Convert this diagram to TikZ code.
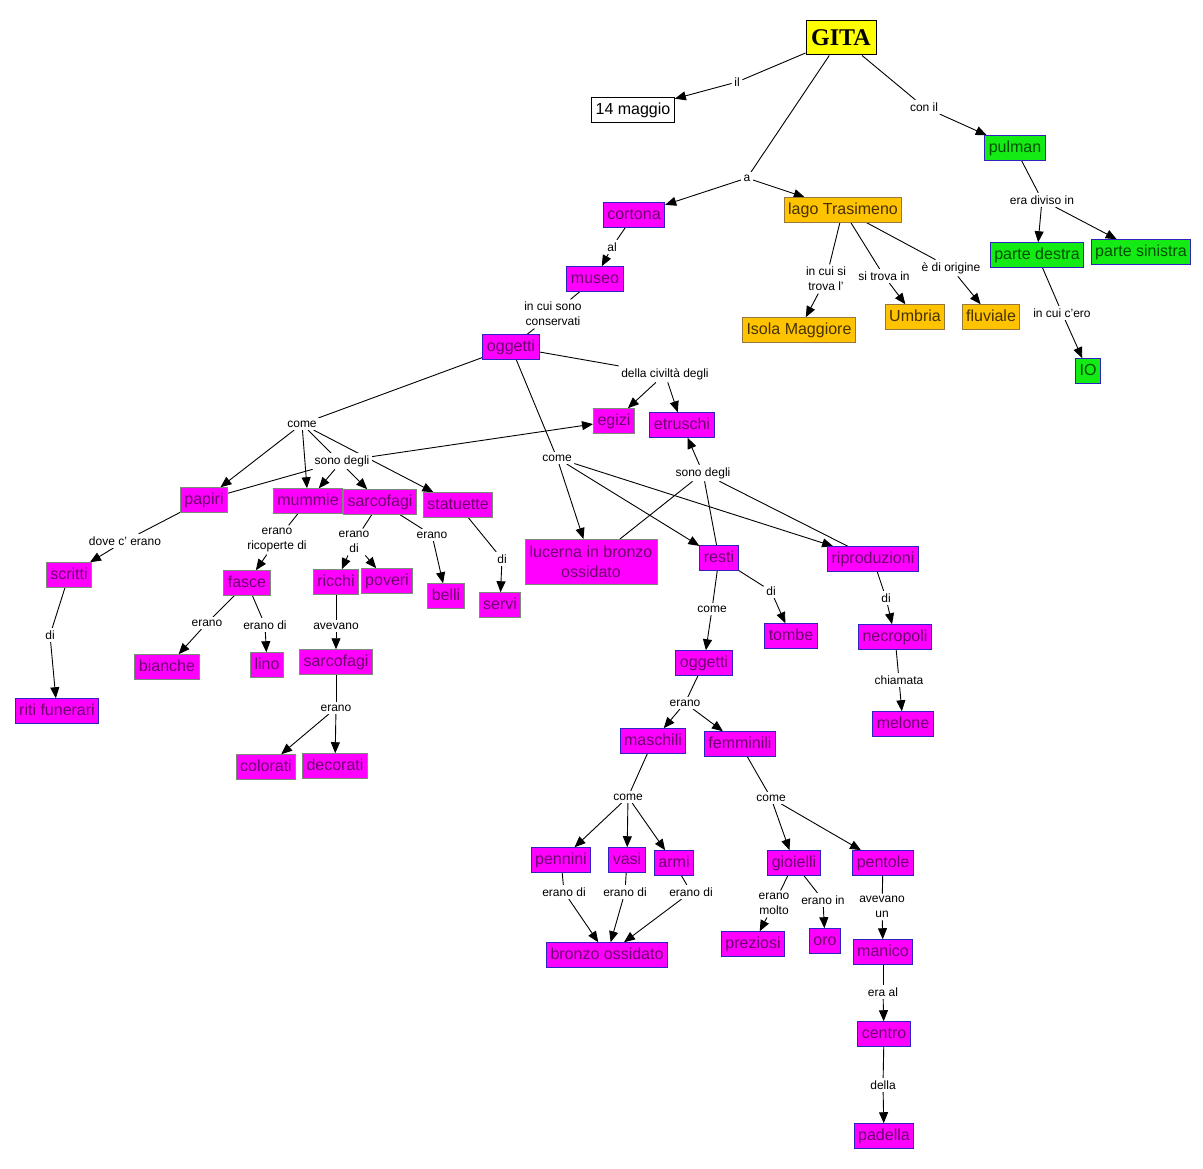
\documentclass[tikz,border=0pt]{standalone}
\usepackage{fontspec}
\setmainfont{Liberation Sans}
\newfontfamily\gitafont{Liberation Serif}
\usepackage{xcolor}
\usepackage{tikz}
\usetikzlibrary{arrows.meta,backgrounds}
\definecolor{mapMagenta}{RGB}{255,0,255}
\definecolor{mapBlue}{RGB}{45,35,190}
\definecolor{mapGrey}{RGB}{120,140,120}
\definecolor{mapPurple}{RGB}{110,0,110}
\definecolor{mapGreen}{RGB}{20,235,20}
\definecolor{mapGreenText}{RGB}{0,80,0}
\definecolor{mapOrange}{RGB}{255,195,0}
\definecolor{mapOrangeEdge}{RGB}{150,120,60}
\definecolor{mapOrangeText}{RGB}{70,50,0}
\definecolor{mapYellow}{RGB}{255,255,0}

\begin{document}
\begin{tikzpicture}[x=1pt,y=-1pt,
    every node/.style={font=\fontsize{16}{20}\selectfont,align=center},
    cbase/.style={rectangle,draw,line width=1pt,inner xsep=4pt,inner ysep=4.5pt},
    concept/.style={cbase,text height=12pt,text depth=3.5pt},
    cmag/.style={concept,fill=mapMagenta,draw=mapBlue,text=mapPurple},
    cmagg/.style={concept,fill=mapMagenta,draw=mapGrey,text=mapPurple},
    cgreen/.style={concept,fill=mapGreen,draw=mapBlue,text=mapGreenText},
    corange/.style={concept,fill=mapOrange,draw=mapOrangeEdge,text=mapOrangeText},
    cdate/.style={concept,fill=white,draw=black},
    cgita/.style={rectangle,draw,line width=1pt,fill=mapYellow,minimum width=70pt,
                  minimum height=34pt,inner sep=0pt,font=\gitafont\bfseries\fontsize{24}{26}\selectfont},
    link/.style={font=\fontsize{12}{15}\selectfont,fill=white,inner sep=2.5pt},
    plain/.style={draw=black,line width=0.9pt},
    arrow/.style={plain,-{Triangle[length=11pt,width=9pt]}},
]
    \useasboundingbox (0,0) rectangle (1203,1169);

    % concepts
    \node[cgita]   (gita)    at (841,38)  {GITA};
    \node[cdate]   (maggio)  at (633,110) {14 maggio};
    \node[cgreen]  (pulman)  at (1015,148) {pulman};
    \node[cgreen]  (destra)  at (1037,255) {parte destra};
    \node[cgreen]  (sinistra) at (1141,252) {parte sinistra};
    \node[cgreen]  (io)      at (1088,371) {IO};
    \node[cmag]    (cortona) at (634,215) {cortona};
    \node[corange] (lago)    at (843,210) {lago Trasimeno};
    \node[corange] (isola)   at (799,330) {Isola Maggiore};
    \node[corange] (umbria)  at (915,317) {Umbria};
    \node[corange] (fluviale) at (991,317) {fluviale};
    \node[cmag]    (museo)   at (595,279) {museo};
    \node[cmag]    (oggetti) at (511,347) {oggetti};
    \node[cmagg]   (egizi)   at (614,421) {egizi};
    \node[cmag]    (etruschi) at (682,425) {etruschi};
    \node[cmagg]   (papiri)  at (204,500) {papiri};
    \node[cmagg]   (mummie)  at (308,501) {mummie};
    \node[cmagg]   (sarcofagi) at (380,502) {sarcofagi};
    \node[cmagg]   (statuette) at (458,505) {statuette};
    \node[cbase,fill=mapMagenta,draw=mapGrey,text=mapPurple,minimum width=132pt,
          minimum height=45pt] (lucerna) at (591,562) {lucerna in bronzo\\ossidato};
    \node[cmag]    (resti)   at (719,558) {resti};
    \node[cmag]    (riproduzioni) at (873,559) {riproduzioni};
    \node[cmagg]   (scritti) at (69,575)  {scritti};
    \node[cmag]    (riti)    at (57,711)  {riti funerari};
    \node[cmagg]   (fasce)   at (247,583) {fasce};
    \node[cmagg]   (bianche) at (167,667) {bianche};
    \node[cmagg]   (lino)    at (267,665) {lino};
    \node[cmagg]   (ricchi)  at (336,582) {ricchi};
    \node[cmagg]   (poveri)  at (387,581) {poveri};
    \node[cmagg]   (belli)   at (446,596) {belli};
    \node[cmagg]   (servi)   at (500,605) {servi};
    \node[cmagg]   (sarcofagib) at (336,662) {sarcofagi};
    \node[cmagg]   (colorati) at (266,767) {colorati};
    \node[cmagg]   (decorati) at (335,766) {decorati};
    \node[cmag]    (tombe)   at (791,636) {tombe};
    \node[cmag]    (necropoli) at (895,637) {necropoli};
    \node[cmag]    (melone)  at (903,724) {melone};
    \node[cmag]    (oggettib) at (704,663) {oggetti};
    \node[cmag]    (maschili) at (653,741) {maschili};
    \node[cmag]    (femminili) at (740,744) {femminili};
    \node[cmag]    (pennini) at (561,860) {pennini};
    \node[cmag]    (vasi)    at (627,860) {vasi};
    \node[cmag]    (armi)    at (674,863) {armi};
    \node[cmag]    (bronzo)  at (607,955) {bronzo ossidato};
    \node[cmag]    (gioielli) at (794,863) {gioielli};
    \node[cmag]    (pentole) at (883,863) {pentole};
    \node[cmag]    (preziosi) at (753,944) {preziosi};
    \node[cmag]    (oro)     at (825,941) {oro};
    \node[cmag]    (manico)  at (883,952) {manico};
    \node[cmag]    (centro)  at (884,1034) {centro};
    \node[cmag]    (padella) at (884,1136) {padella};

    % linking phrases
    \node[link] (il)       at (737,82)  {il};
    \node[link] (a)        at (747,178) {a};
    \node[link] (conil)    at (924,107) {con il};
    \node[link] (diviso)   at (1042,200) {era diviso in};
    \node[link] (cero)     at (1062,313) {in cui c'ero};
    \node[link] (al)       at (612,247) {al};
    \node[link] (cuisi)    at (826,279) {in cui si\\trova l'};
    \node[link] (sitrova)  at (884,276) {si trova in};
    \node[link] (origine)  at (951,268) {è di origine};
    \node[link] (conservati) at (553,314) {in cui sono\\conservati};
    \node[link] (civilta)  at (665,374) {della civiltà degli};
    \node[link] (comel)    at (302,424) {come};
    \node[link] (sonol)    at (342,461) {sono degli};
    \node[link] (comem)    at (557,458) {come};
    \node[link] (sonor)    at (703,473) {sono degli};
    \node[link] (dove)     at (125,541) {dove c' erano};
    \node[link] (dis)      at (50,635)  {di};
    \node[link] (ricoperte) at (277,540) {erano\\ricoperte di};
    \node[link] (eranob)   at (207,623) {erano};
    \node[link] (eranodil) at (265,625) {erano di};
    \node[link] (eranodis) at (354,542) {erano\\di};
    \node[link] (eranos)   at (432,535) {erano};
    \node[link] (dit)      at (502,559) {di};
    \node[link] (avevano)  at (336,626) {avevano};
    \node[link] (eranoc)   at (336,708) {erano};
    \node[link] (comer)    at (712,609) {come};
    \node[link] (dir)      at (771,591) {di};
    \node[link] (din)      at (886,598) {di};
    \node[link] (chiamata) at (899,680) {chiamata};
    \node[link] (eranoo)   at (685,703) {erano};
    \node[link] (comema)   at (628,797) {come};
    \node[link] (comef)    at (771,798) {come};
    \node[link] (eranodip) at (564,892) {erano di};
    \node[link] (eranodiv) at (625,892) {erano di};
    \node[link] (eranodia) at (691,892) {erano di};
    \node[link] (molto)    at (774,904) {erano\\molto};
    \node[link] (eranoin)  at (823,900) {erano in};
    \node[link] (aveun)    at (882,907) {avevano\\un};
    \node[link] (eraal)    at (883,992) {era al};
    \node[link] (della)    at (883,1085) {della};

    \begin{scope}[on background layer]
    \draw[plain] (gita) -- (il);
    \draw[arrow] (il) -- (maggio);
    \draw[plain] (gita) -- (a);
    \draw[arrow] (a) -- (cortona);
    \draw[arrow] (a) -- (lago);
    \draw[plain] (gita) -- (conil);
    \draw[arrow] (conil) -- (pulman);
    \draw[plain] (pulman) -- (diviso);
    \draw[arrow] (diviso) -- (destra);
    \draw[arrow] (diviso) -- (sinistra);
    \draw[plain] (destra) -- (cero);
    \draw[arrow] (cero) -- (io);
    \draw[plain] (lago) -- (cuisi);
    \draw[arrow] (cuisi) -- (isola);
    \draw[plain] (lago) -- (sitrova);
    \draw[arrow] (sitrova) -- (umbria);
    \draw[plain] (lago) -- (origine);
    \draw[arrow] (origine) -- (fluviale);
    \draw[plain] (cortona) -- (al);
    \draw[arrow] (al) -- (museo);
    \draw[plain] (museo) -- (conservati);
    \draw[plain] (conservati) -- (oggetti);
    \draw[plain] (oggetti) -- (civilta);
    \draw[arrow] (civilta) -- (egizi);
    \draw[arrow] (civilta) -- (etruschi);
    \draw[plain] (oggetti) -- (comel);
    \draw[arrow] (comel) -- (papiri);
    \draw[arrow] (comel) -- (mummie);
    \draw[arrow] (comel) -- (sarcofagi);
    \draw[arrow] (comel) -- (statuette);
    \draw[plain] (papiri) -- (sonol);
    \draw[arrow] (sonol) -- (mummie);
    \draw[arrow] (sonol) -- (egizi);
    \draw[plain] (oggetti) -- (comem);
    \draw[arrow] (comem) -- (lucerna);
    \draw[arrow] (comem) -- (resti);
    \draw[arrow] (comem) -- (riproduzioni);
    \draw[plain] (lucerna) -- (sonor);
    \draw[plain] (resti) -- (sonor);
    \draw[plain] (riproduzioni) -- (sonor);
    \draw[arrow] (sonor) -- (etruschi);
    \draw[plain] (papiri) -- (dove);
    \draw[arrow] (dove) -- (scritti);
    \draw[plain] (scritti) -- (dis);
    \draw[arrow] (dis) -- (riti);
    \draw[plain] (mummie) -- (ricoperte);
    \draw[arrow] (ricoperte) -- (fasce);
    \draw[plain] (fasce) -- (eranob);
    \draw[arrow] (eranob) -- (bianche);
    \draw[plain] (fasce) -- (eranodil);
    \draw[arrow] (eranodil) -- (lino);
    \draw[plain] (sarcofagi) -- (eranodis);
    \draw[arrow] (eranodis) -- (ricchi);
    \draw[arrow] (eranodis) -- (poveri);
    \draw[plain] (sarcofagi) -- (eranos);
    \draw[arrow] (eranos) -- (belli);
    \draw[plain] (statuette) -- (dit);
    \draw[arrow] (dit) -- (servi);
    \draw[plain] (ricchi) -- (avevano);
    \draw[arrow] (avevano) -- (sarcofagib);
    \draw[plain] (sarcofagib) -- (eranoc);
    \draw[arrow] (eranoc) -- (colorati);
    \draw[arrow] (eranoc) -- (decorati);
    \draw[plain] (resti) -- (comer);
    \draw[arrow] (comer) -- (oggettib);
    \draw[plain] (resti) -- (dir);
    \draw[arrow] (dir) -- (tombe);
    \draw[plain] (riproduzioni) -- (din);
    \draw[arrow] (din) -- (necropoli);
    \draw[plain] (necropoli) -- (chiamata);
    \draw[arrow] (chiamata) -- (melone);
    \draw[plain] (oggettib) -- (eranoo);
    \draw[arrow] (eranoo) -- (maschili);
    \draw[arrow] (eranoo) -- (femminili);
    \draw[plain] (maschili) -- (comema);
    \draw[arrow] (comema) -- (pennini);
    \draw[arrow] (comema) -- (vasi);
    \draw[arrow] (comema) -- (armi);
    \draw[plain] (pennini) -- (eranodip);
    \draw[arrow] (eranodip) -- (bronzo);
    \draw[plain] (vasi) -- (eranodiv);
    \draw[arrow] (eranodiv) -- (bronzo);
    \draw[plain] (armi) -- (eranodia);
    \draw[arrow] (eranodia) -- (bronzo);
    \draw[plain] (femminili) -- (comef);
    \draw[arrow] (comef) -- (gioielli);
    \draw[arrow] (comef) -- (pentole);
    \draw[plain] (gioielli) -- (molto);
    \draw[arrow] (molto) -- (preziosi);
    \draw[plain] (gioielli) -- (eranoin);
    \draw[arrow] (eranoin) -- (oro);
    \draw[plain] (pentole) -- (aveun);
    \draw[arrow] (aveun) -- (manico);
    \draw[plain] (manico) -- (eraal);
    \draw[arrow] (eraal) -- (centro);
    \draw[plain] (centro) -- (della);
    \draw[arrow] (della) -- (padella);
    \end{scope}
\end{tikzpicture}
\end{document}
